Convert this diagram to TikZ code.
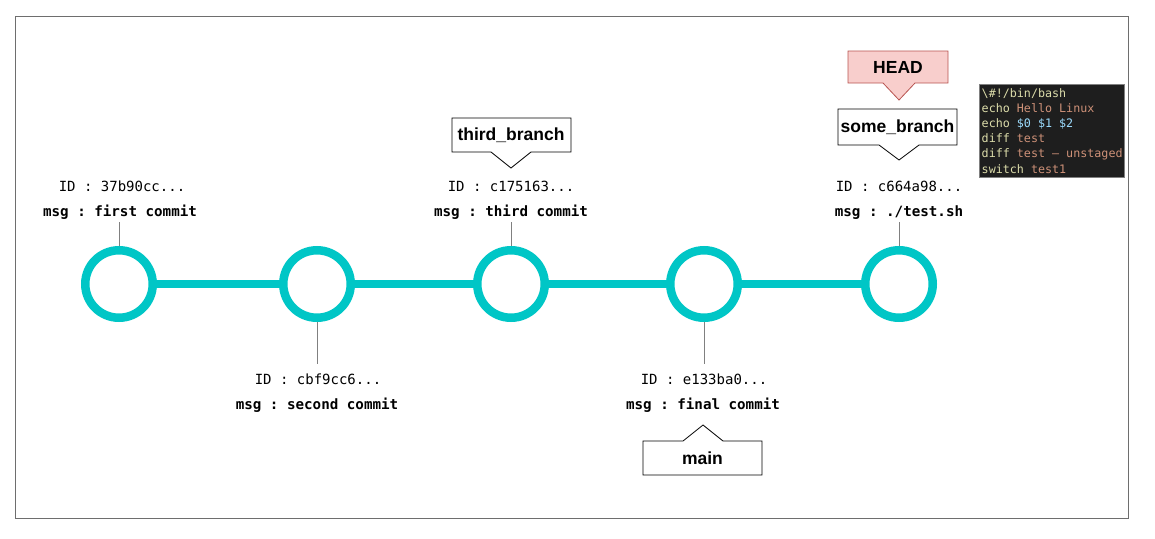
\documentclass[tikz,border=0pt]{standalone}
\usepackage{fontspec}
\setmainfont{Liberation Sans}
\setmonofont{DejaVu Sans Mono}
\usetikzlibrary{calc}
\definecolor{tealc}{RGB}{0,198,198}
\definecolor{framec}{RGB}{110,110,110}
\definecolor{stemc}{RGB}{128,128,128}
\definecolor{headfill}{HTML}{F8CECC}
\definecolor{headdraw}{HTML}{B85450}
\definecolor{codebg}{HTML}{1E1E1E}
\definecolor{kw}{HTML}{DCDCAA}
\definecolor{str}{HTML}{CE9178}
\definecolor{var}{HTML}{9CDCFE}
\begin{document}
\begin{tikzpicture}[x=1pt,y=-1pt,
  commit/.style={circle,draw=tealc,line width=8.5pt,fill=white,minimum size=67.5pt,inner sep=0pt},
  link/.style={draw=tealc,line width=8pt},
  stem/.style={draw=stemc,line width=1pt},
  idtxt/.style={font=\ttfamily\fontsize{14}{16}\selectfont,anchor=base,inner sep=0pt},
  msgtxt/.style={font=\ttfamily\bfseries\fontsize{14.2}{16}\selectfont,anchor=base,inner sep=0pt},
  brtxt/.style={font=\bfseries\fontsize{17.5}{20}\selectfont,inner sep=0pt},
  callout/.style={draw=black,line width=0.8pt,fill=white},
  headcallout/.style={draw=headdraw,line width=0.8pt,fill=headfill},
  codetxt/.style={font=\ttfamily\fontsize{11.7}{14}\selectfont,anchor=base west,inner sep=0pt}
]
\useasboundingbox (0,0) rectangle (1155,538);
\draw[framec,line width=1pt] (15,16) rectangle (1128,518);

% commits
\node[commit] (c1) at (119,284) {};
\node[commit] (c2) at (317,284) {};
\node[commit] (c3) at (511,284) {};
\node[commit] (c4) at (704,284) {};
\node[commit] (c5) at (899,284) {};
\draw[link] (c1) -- (c2);
\draw[link] (c2) -- (c3);
\draw[link] (c3) -- (c4);
\draw[link] (c4) -- (c5);

% stems
\coordinate (s1) at (119,222);
\coordinate (s2) at (317,364);
\coordinate (s3) at (511,222);
\coordinate (s4) at (704,364);
\coordinate (s5) at (899,222);
\draw[stem] (c1.north) -- (s1);
\draw[stem] (c2.south) -- (s2);
\draw[stem] (c3.north) -- (s3);
\draw[stem] (c4.south) -- (s4);
\draw[stem] (c5.north) -- (s5);

% labels
\node[idtxt] (id1) at (122,191) {ID : 37b90cc...};
\node[msgtxt] (m1) at (120,216) {msg : first commit};
\node[idtxt] (id2) at (318,384) {ID : cbf9cc6...};
\node[msgtxt] (m2) at (317,409) {msg : second commit};
\node[idtxt] (id3) at (511,191) {ID : c175163...};
\node[msgtxt] (m3) at (511,216) {msg : third commit};
\node[idtxt] (id4) at (704,384) {ID : e133ba0...};
\node[msgtxt] (m4) at (703,409) {msg : final commit};
\node[idtxt] (id5) at (899,191) {ID : c664a98...};
\node[msgtxt] (m5) at (899,216) {msg : ./test.sh};

% callouts
\draw[callout] (452,118) -- (571,118) -- (571,152) -- (531,152) -- (511,168) -- (491,152) -- (452,152) -- cycle;
\node[brtxt] (tb) at (511,135) {third\_branch};

\draw[callout] (838,109) -- (957,109) -- (957,145) -- (919,145) -- (899,160) -- (879,145) -- (838,145) -- cycle;
\node[brtxt] (sb) at (897.5,127) {some\_branch};

\draw[headcallout] (848,51) -- (948,51) -- (948,83) -- (915,83) -- (899,100) -- (883,83) -- (848,83) -- cycle;
\node[brtxt] (hd) at (898,67.5) {HEAD};

\draw[callout] (643,441) -- (683,441) -- (703,425) -- (723,441) -- (762,441) -- (762,475) -- (643,475) -- cycle;
\node[brtxt] (mn) at (702.5,458) {main};

% code box
\draw[fill=codebg,draw=stemc,line width=0.8pt] (979,84) rectangle (1124,177);
\node[codetxt,text=kw] (l1) at (981.5,97) {\textbackslash\#!/bin/bash};
\node[codetxt] (l2) at (981.5,112.2) {\textcolor{kw}{echo} \textcolor{str}{Hello Linux}};
\node[codetxt] (l3) at (981.5,127.4) {\textcolor{kw}{echo} \textcolor{var}{\$0 \$1 \$2}};
\node[codetxt] (l4) at (981.5,142.6) {\textcolor{kw}{diff} \textcolor{str}{test}};
\node[codetxt] (l5) at (981.5,157.8) {\textcolor{kw}{diff} \textcolor{str}{test – unstaged}};
\node[codetxt] (l6) at (981.5,173) {\textcolor{kw}{switch} \textcolor{str}{test1}};
\end{tikzpicture}
\end{document}
